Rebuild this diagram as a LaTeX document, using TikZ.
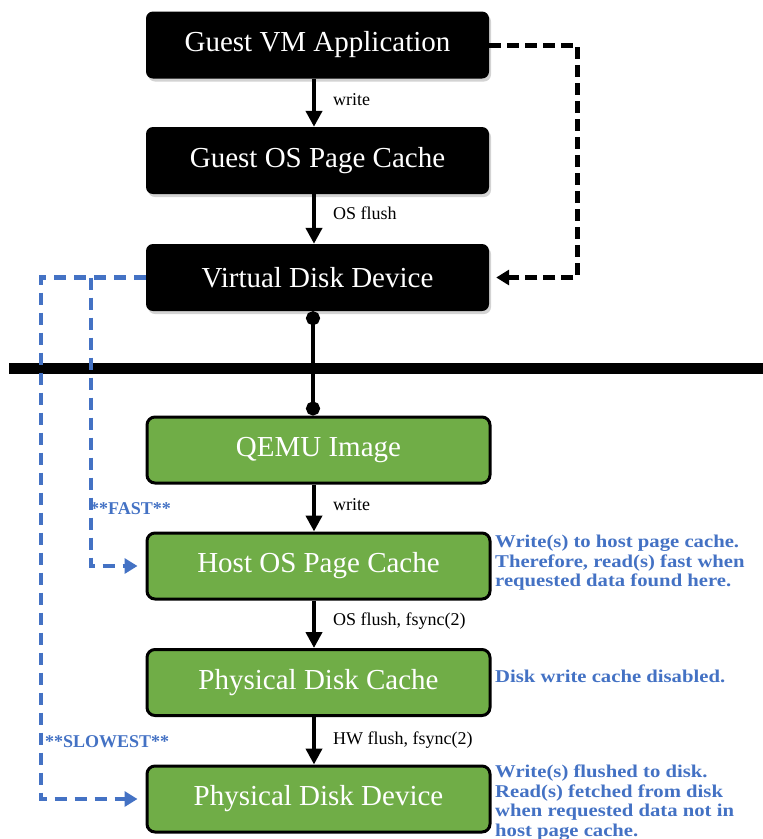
\documentclass[tikz,border=0pt]{standalone}
\usepackage{fontspec}
\setmainfont{Liberation Serif}
\newfontfamily\widenote[FakeStretch=1.15]{Liberation Serif}
\usetikzlibrary{arrows.meta,shadows}
\definecolor{linkblue}{HTML}{4472C4}
\definecolor{hostgreen}{HTML}{70AD47}
\begin{document}
\begin{tikzpicture}[x=1pt,y=-1pt,
  guestbox/.style={rectangle, rounded corners=7pt, fill=black, text=white,
    minimum width=343pt, minimum height=67pt, inner sep=0pt,
    font=\fontsize{29}{33}\selectfont,
    drop shadow={shadow xshift=2pt, shadow yshift=-3pt, opacity=0.35}},
  hostbox/.style={rectangle, rounded corners=8pt, fill=hostgreen, draw=black,
    line width=3pt, text=white, minimum width=343pt, minimum height=66pt,
    inner sep=0pt, font=\fontsize{29}{33}\selectfont},
  flow/.style={line width=4pt, -{Triangle[length=16pt,width=16pt]}},
  flowlabel/.style={anchor=west, inner sep=0pt, font=\fontsize{18}{21}\selectfont},
  bypass/.style={line width=5pt, dash pattern=on 12pt off 6pt,
    -{Triangle[length=13pt,width=15pt]}},
  fastpath/.style={linkblue, line width=4.5pt, dash pattern=on 12pt off 8pt,
    -{Triangle[length=13pt,width=15pt]}},
  note/.style={linkblue, anchor=north west, align=left, inner sep=0pt,
    font=\widenote\bfseries\fontsize{18}{19.5}\selectfont},
  pathlabel/.style={linkblue, anchor=west, inner sep=0pt,
    font=\bfseries\fontsize{18}{21}\selectfont}]

\useasboundingbox (0,0) rectangle (763,839);

% guest side
\node[guestbox] (app)    at (317.5,45)    {Guest VM Application};
\node[guestbox] (gcache) at (317.5,160.5) {Guest OS Page Cache};
\node[guestbox] (vdisk)  at (317.5,277.5) {Virtual Disk Device};

% guest / host divider
\coordinate (divL) at (9,368);
\coordinate (divR) at (763,368);
\draw[line width=11pt] (divL) -- (divR);

% host side
\node[hostbox] (qemu)   at (318.5,450)   {QEMU Image};
\node[hostbox] (hcache) at (318.5,566)   {Host OS Page Cache};
\node[hostbox] (dcache) at (318.5,682.5) {Physical Disk Cache};
\node[hostbox] (ddev)   at (318.5,799)   {Physical Disk Device};

% write path
\draw[flow] ([xshift=-3.5pt]app.south) -- ([xshift=-3.5pt]gcache.north);
\node[flowlabel] at (333,100) {write};
\draw[flow] ([xshift=-3.5pt]gcache.south) -- ([xshift=-3.5pt]vdisk.north);
\node[flowlabel] at (333,213) {OS flush};
\draw[line width=4pt, {Circle[length=14pt]}-{Circle[length=14pt]}]
  ([xshift=-4.5pt]vdisk.south) -- ([xshift=-5.5pt]qemu.north);
\draw[flow] ([xshift=-4.5pt]qemu.south) -- ([xshift=-4.5pt]hcache.north);
\node[flowlabel] at (333,505) {write};
\draw[flow] ([xshift=-4.5pt]hcache.south) -- ([xshift=-4.5pt]dcache.north);
\node[flowlabel] at (333,621) {OS flush, fsync(2)};
\draw[flow] ([xshift=-4.5pt]dcache.south) -- ([xshift=-4.5pt]ddev.north);
\node[flowlabel] at (333,740) {HW flush, fsync(2)};

% direct guest write to the virtual disk
\coordinate (bypassR) at (577,0);
\draw[bypass] (app.east) -- (app.east -| bypassR) -- (vdisk.east -| bypassR)
  -- ([xshift=7pt]vdisk.east);

% host read paths
\coordinate (slowX) at (41,0);
\coordinate (fastX) at (91,0);
\coordinate (fastTop) at (vdisk.west -| fastX);
\draw[fastpath] (vdisk.west) -- (vdisk.west -| slowX) -- (ddev.west -| slowX)
  -- ([xshift=-8pt]ddev.west);
\draw[fastpath] (fastTop) -- (hcache.west -| fastX) -- ([xshift=-8pt]hcache.west);
\node[pathlabel] at (90,509) {**FAST**};
\node[pathlabel] at (45,742) {**SLOWEST**};

% notes
\node[note] (n1) at (495,535) {Write(s) to host page cache.\\Therefore, read(s) fast when\\requested data found here.};
\node[note] (n2) at (495,670) {Disk write cache disabled.};
\node[note] (n3) at (495,765) {Write(s) flushed to disk.\\Read(s) fetched from disk\\when requested data not in\\host page cache.};
\end{tikzpicture}
\end{document}
